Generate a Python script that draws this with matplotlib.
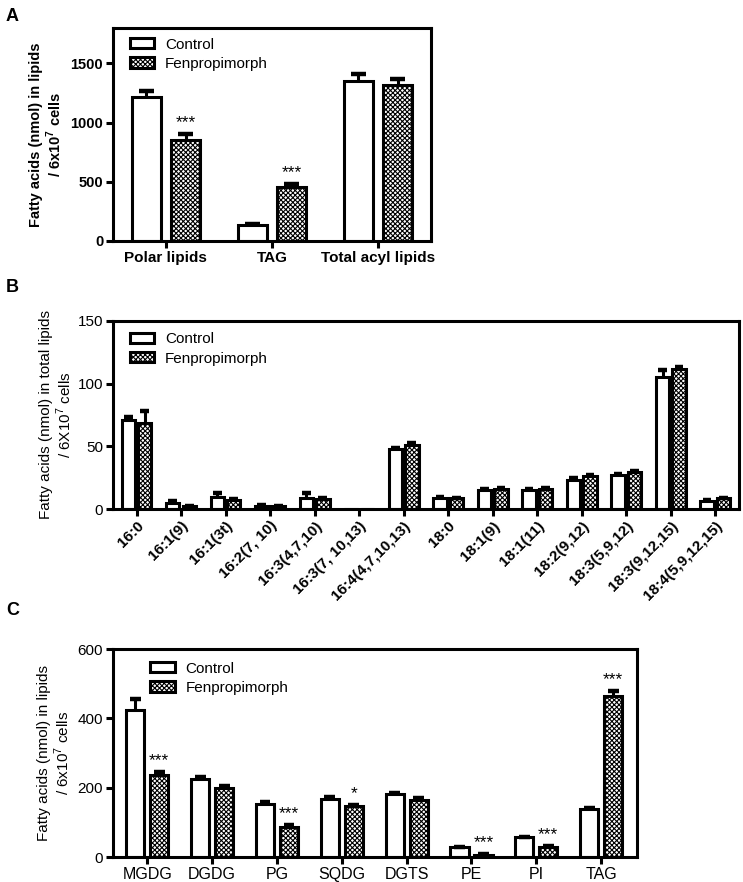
import matplotlib
matplotlib.use("Agg")
import matplotlib.pyplot as plt
import numpy as np
from matplotlib.patches import Patch

plt.rcParams['font.family'] = ['Liberation Sans', 'DejaVu Sans']
plt.rcParams['mathtext.fontset'] = 'custom'
plt.rcParams['mathtext.rm'] = 'Liberation Sans'
plt.rcParams['mathtext.bf'] = 'Liberation Sans:bold'
plt.rcParams['hatch.linewidth'] = 0.8
plt.rcParams['hatch.color'] = 'black'

# ---------------- data ----------------
a_cats = ["Polar lipids", "TAG", "Total acyl lipids"]
a_ctrl = [1220, 135, 1355]
a_ctrl_err = [48, 8, 55]
a_fen = [855, 460, 1320]
a_fen_err = [48, 20, 48]
a_stars = ["***", "***", ""]

b_cats = ["16:0", "16:1(9)", "16:1(3t)", "16:2(7, 10)", "16:3(4,7,10)", "16:3(7, 10,13)",
          "16:4(4,7,10,13)", "18:0", "18:1(9)", "18:1(11)", "18:2(9,12)", "18:3(5,9,12)",
          "18:3(9,12,15)", "18:4(5,9,12,15)"]
b_ctrl = [71, 5, 9.5, 2.5, 9, 0, 48, 9, 15.5, 15.5, 23.5, 27.5, 105.5, 6.5]
b_ctrl_err = [2, 1.5, 3, 0.5, 3.5, 0, 0.5, 0.5, 0.5, 0.5, 1, 0.5, 5, 0.5]
b_fen = [69, 2, 7, 2, 8, 0, 51, 8.5, 16, 16, 26.5, 29.5, 112, 8.5]
b_fen_err = [9.5, 0.5, 1, 0.5, 0.5, 0, 1.5, 0.5, 0.5, 0.5, 1, 1, 1, 0.5]

c_cats = ["MGDG", "DGDG", "PG", "SQDG", "DGTS", "PE", "PI", "TAG"]
c_ctrl = [423, 225, 153, 168, 181, 28, 57, 138]
c_ctrl_err = [33, 6, 7, 4, 5, 2, 2, 4]
c_fen = [238, 198, 87, 147, 165, 7, 30, 465]
c_fen_err = [8, 6, 6, 4, 5, 2, 3, 15]
c_stars = ["***", "", "***", "*", "", "***", "***", "***"]

series_names = ["Control", "Fenpropimorph"]

# ---------------- style ----------------
LW = 2.2
HATCH = 'xxxxxxx'

fig = plt.figure(figsize=(7.43, 8.82), dpi=100)


def style_axes(ax):
    for s in ax.spines.values():
        s.set_linewidth(LW)
    ax.tick_params(axis='both', direction='out', length=5, width=LW, pad=2)


def draw_group(ax, cats, ctrl, ctrl_err, fen, fen_err, width, off, capfrac, stars=None,
               star_size=10, star_pad=0.0):
    x = np.arange(len(cats))
    ctrl = np.array(ctrl, float); fen = np.array(fen, float)
    ctrl_err = np.array(ctrl_err, float); fen_err = np.array(fen_err, float)
    for xs, vals, errs, hatch in [(x - off, ctrl, ctrl_err, None), (x + off, fen, fen_err, HATCH)]:
        ax.bar(xs, vals, width=width, facecolor='white', edgecolor='black', linewidth=LW,
               hatch=hatch, zorder=2)
        mask = errs > 0
        ax.vlines(xs[mask], vals[mask], vals[mask] + errs[mask], color='black', linewidth=LW, zorder=3)
        ax.hlines(vals[mask] + errs[mask], xs[mask] - width * capfrac, xs[mask] + width * capfrac,
                  color='black', linewidth=LW + 1.0, zorder=3)
    if stars is not None:
        for xi, v, e, s in zip(x + off, fen, fen_err, stars):
            if s:
                ax.text(xi, v + e + star_pad, s, ha='center', va='bottom', fontsize=star_size)
    return x


def legend(ax, anchor, fs):
    handles = [Patch(facecolor='white', edgecolor='black', linewidth=LW),
               Patch(facecolor='white', edgecolor='black', linewidth=LW, hatch=HATCH)]
    ax.legend(handles, series_names, loc='upper left', bbox_to_anchor=anchor, frameon=False,
              fontsize=fs, handlelength=1.6, handleheight=0.65, handletextpad=0.7,
              labelspacing=0.35, borderpad=0, borderaxespad=0)


# ---------------- panel A ----------------
axA = fig.add_axes([0.152, 0.7268, 0.428, 0.2415])
style_axes(axA)
xA = draw_group(axA, a_cats, a_ctrl, a_ctrl_err, a_fen, a_fen_err, width=0.27, off=0.185,
                capfrac=0.27, stars=a_stars, star_size=12.5, star_pad=30)
axA.set_xlim(-0.5, 2.5)
axA.set_ylim(0, 1800)
axA.set_yticks([0, 500, 1000, 1500])
axA.set_xticks(xA)
axA.set_xticklabels(a_cats, fontsize=11, fontweight='bold')
for t in axA.get_yticklabels():
    t.set_fontsize(10.5); t.set_fontweight('bold')
axA.set_ylabel("Fatty acids (nmol) in lipids\n/ 6x10$^{\\mathbf{7}}$ cells", fontsize=10.5,
               fontweight='bold', linespacing=1.1)
axA.yaxis.set_label_coords(-0.155, 0.5)
legend(axA, (0.053, 0.955), 11)
fig.text(0.008, 0.981, "A", fontsize=13, fontweight='bold', va='center')

# ---------------- panel B ----------------
axB = fig.add_axes([0.152, 0.4229, 0.8425, 0.2132])
style_axes(axB)
xB = draw_group(axB, b_cats, b_ctrl, b_ctrl_err, b_fen, b_fen_err, width=0.30, off=0.185,
                capfrac=0.33)
axB.set_xlim(-0.53, 13.53)
axB.set_ylim(0, 150)
axB.set_yticks([0, 50, 100, 150])
axB.set_xticks(xB)
axB.set_xticklabels(b_cats, fontsize=11, fontweight='bold', rotation=45, ha='right',
                    rotation_mode='anchor')
for t in axB.get_yticklabels():
    t.set_fontsize(11)
axB.set_ylabel("Fatty acids (nmol) in total lipids\n/ 6X10$^7$ cells", fontsize=11,
               linespacing=1.1)
axB.yaxis.set_label_coords(-0.062, 0.5)
legend(axB, (0.027, 0.94), 11)
fig.text(0.008, 0.674, "B", fontsize=13, fontweight='bold', va='center')

# ---------------- panel C ----------------
axC = fig.add_axes([0.152, 0.0283, 0.705, 0.2358])
style_axes(axC)
xC = draw_group(axC, c_cats, c_ctrl, c_ctrl_err, c_fen, c_fen_err, width=0.28, off=0.185,
                capfrac=0.3, stars=c_stars, star_size=12.5, star_pad=10)
axC.set_xlim(-0.53, 7.55)
axC.set_ylim(0, 600)
axC.set_yticks([0, 200, 400, 600])
axC.set_xticks(xC)
axC.set_xticklabels(c_cats, fontsize=11.5)
for t in axC.get_yticklabels():
    t.set_fontsize(11)
axC.set_ylabel("Fatty acids (nmol) in lipids\n/ 6x10$^7$ cells", fontsize=11, linespacing=1.1)
axC.yaxis.set_label_coords(-0.078, 0.5)
legend(axC, (0.071, 0.94), 11)
fig.text(0.008, 0.308, "C", fontsize=13, fontweight='bold', va='center')

fig.savefig("out.png", dpi=100)
